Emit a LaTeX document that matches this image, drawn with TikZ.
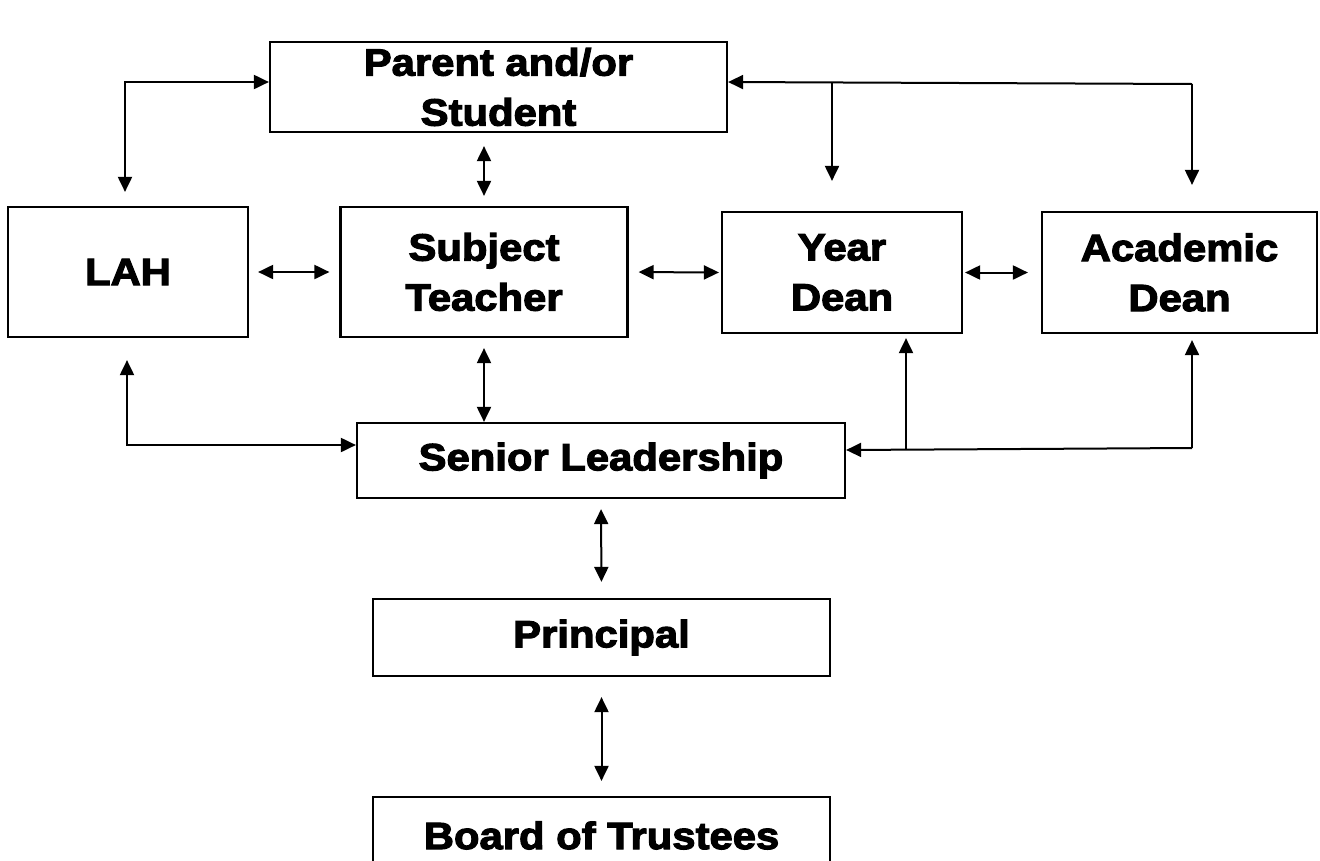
\documentclass[tikz,border=0pt]{standalone}
\usepackage{fontspec}
\setmainfont{Liberation Sans}[BoldFeatures={FakeBold=3,FakeStretch=1.1}]
\usetikzlibrary{arrows.meta}
\tikzset{
  box/.style={draw, line width=2.2pt, align=center, inner sep=0pt,
    font=\bfseries\fontsize{38}{50}\selectfont},
  link/.style={line width=2pt, -{Triangle[length=15pt,width=14pt]}},
  both/.style={line width=2pt, {Triangle[length=15pt,width=14pt]}-{Triangle[length=15pt,width=14pt]}}
}
\begin{document}
\begin{tikzpicture}[x=1pt,y=-1pt]
\useasboundingbox (0,0) rectangle (1320,860);
\fill[white] (0,0) rectangle (1320,860);
\node[box, minimum width=457pt, minimum height=90pt] (parent) at (498.5,87) {Parent and/or\\Student};
\node[box, minimum width=240pt, minimum height=130pt] (lah) at (128,272) {LAH};
\node[box, minimum width=287pt, minimum height=130pt] (teacher) at (484,272) {Subject\\Teacher};
\node[box, minimum width=240pt, minimum height=121pt] (yeardean) at (842,272.5) {Year\\Dean};
\node[box, minimum width=275pt, minimum height=121pt] (acadean) at (1179.5,272.5) {Academic\\Dean};
\node[box, minimum width=488pt, minimum height=75pt] (senior) at (601,460.5) {Senior Leadership};
\node[box, minimum width=457pt, minimum height=77pt] (principal) at (601.5,637.5) {Principal};
\node[box, minimum width=457pt, minimum height=77pt] (board) at (601.5,835.5) {Board of Trustees};
% corners of the bent lines
\coordinate (lp) at (125,82);
\coordinate (ls) at (127,445);
\coordinate (yp) at (832,83);
\coordinate (rp) at (1192,84);
\coordinate (ys) at (906,449);
\coordinate (rs) at (1192,448);
% top
\draw[both, shorten <=14pt] (lp |- lah.north) -- (lp) -- (lp -| parent.west);
\draw[link] (rp) -- (parent.east |- 0,82);
\draw[link, shorten >=30pt] (yp) -- (yp |- yeardean.north);
\draw[link, shorten >=26pt] (rp) -- (rp |- acadean.north);
\draw[both, shorten <=13pt, shorten >=10pt] (teacher.north |- parent.south) -- (teacher.north);
% middle row
\draw[both, shorten <=9pt, shorten >=10pt] (lah.east) -- (teacher.west);
\draw[both, shorten <=10pt, shorten >=2pt] (teacher.east) -- (yeardean.west);
\draw[both, shorten <=2pt, shorten >=13pt] (yeardean.east) -- (acadean.west);
\draw[both, shorten <=10pt] (teacher.south) -- (teacher.south |- senior.north);
% bottom
\draw[both, shorten <=22pt] (ls |- lah.south) -- (ls) -- (ls -| senior.west);
\draw[link] (rs) -- (senior.east |- 0,450);
\draw[link, shorten >=4pt] (ys) -- (ys |- yeardean.south);
\draw[link, shorten >=6pt] (rs) -- (rs |- acadean.south);
\draw[both, shorten <=10pt, shorten >=16pt] (senior.south) -- (principal.north);
\draw[both, shorten <=20pt, shorten >=15pt] (principal.south) -- (board.north);
\end{tikzpicture}
\end{document}
